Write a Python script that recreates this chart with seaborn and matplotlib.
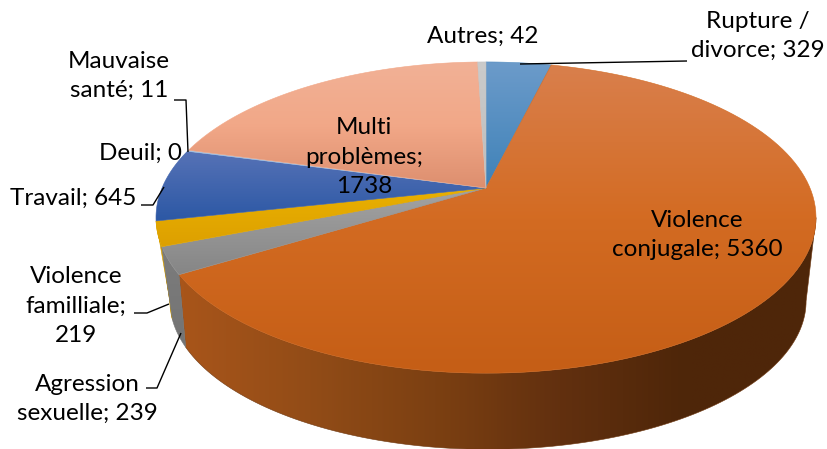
import numpy as np
import matplotlib
matplotlib.use("Agg")
import matplotlib.pyplot as plt
from matplotlib.colors import to_rgb
from matplotlib.patches import Polygon
import seaborn as sns

# slices, clockwise from the top
categories = ["Rupture /\ndivorce", "Violence\nconjugale", "Agression\nsexuelle", "Violence\nfamilliale",
              "Travail", "Deuil", "Mauvaise\nsanté", "Multi\nproblèmes", "Autres"]
values = [329, 5360, 239, 219, 645, 0, 11, 1738, 42]

top_colors = [["#6c9bca", "#3f82b8"],
              ["#d97f4c", "#d36b22", "#c55e16"],
              ["#a3a3a3", "#868686"],
              ["#e9b000", "#dda000"],
              ["#5672b6", "#2c58a5"],
              ["#4a7ebb", "#4a7ebb"],
              ["#a5c3e4", "#a5c3e4"],
              ["#f1b196", "#f2a888", "#dd8f6f"],
              ["#cbcbcb", "#bdbdbd"]]
wall_stops = ["#a8551a", "#924c17", "#7c4012", "#62300f", "#4e2609", "#4f260a"]

# label text, centre x, centre y
label_x = [758, 697, 87, 76, 73, 141, 119, 364, 483]
label_y = [36, 235, 399, 306, 198, 153, 76, 157, 36]

leaders = [[(520, 64), (687, 61)],
           [(174, 100), (186, 100), (188, 152)],
           [(141, 205), (153, 205), (164, 187)],
           [(134, 313), (147, 313), (169, 304)],
           [(146, 388), (157, 388), (181, 333)]]

# perspective of the top and bottom discs: cx, cy, a, b, k
TOP = (486, 188, 324, 150, 0.19)
BOT = (488, 264, 308, 139, 0.25)


def rim(disc, t0, t1, n=120):
    # t is degrees clockwise from the back of the pie
    cx, cy, a, b, k = disc
    t = np.radians(np.linspace(t0, t1, n))
    u, v = np.sin(t), np.cos(t)
    return np.column_stack([cx + a * u / (1 + k * v), cy - b * v / (1 + k * v)])


def paint(ax, pts, stops, z, horizontal=False):
    # gradient image clipped to the polygon, soft edge on top
    x0, y0 = pts.min(axis=0)
    x1, y1 = pts.max(axis=0)
    cols = np.array([to_rgb(c) for c in sns.blend_palette(stops, 64)])
    grad = cols[None, :, :] if horizontal else cols[:, None, :]
    im = ax.imshow(grad, extent=(x0, x1, y1, y0), aspect="auto", zorder=z, interpolation="bilinear")
    patch = Polygon(pts, closed=True, transform=ax.transData, fc="none", ec="none")
    ax.add_patch(patch)
    im.set_clip_path(patch)
    mid = sns.blend_palette(stops, 3)[1]
    ax.add_patch(Polygon(pts, closed=True, fc="none", ec=mid, lw=0.4, zorder=z))


sns.set_theme(style="white")
plt.rcParams["font.family"] = ["Lato", "DejaVu Sans"]

fig = plt.figure(figsize=(8.28, 4.49), dpi=100)
ax = fig.add_axes([0, 0, 1, 1])

edges = np.concatenate([[0], np.cumsum(values)]) / sum(values) * 360

# side walls first
t_top = np.degrees(np.arccos(-TOP[4]))
t_bot = np.degrees(np.arccos(-BOT[4]))
orange_wall = np.vstack([rim(TOP, t_top, edges[2]), rim(BOT, edges[2], t_bot)])
paint(ax, orange_wall, wall_stops, 2, horizontal=True)
grey_wall = np.vstack([rim(TOP, edges[2], edges[3], 30), rim(BOT, edges[3], edges[2], 30)])
paint(ax, grey_wall, ["#7c7c7c", "#747474"], 2)
gold_wall = np.vstack([rim(TOP, edges[3], edges[4], 30), rim(BOT, min(edges[4], 360 - t_bot), edges[3], 30)])
paint(ax, gold_wall, ["#dca400", "#c99200"], 1)

# top faces
for i, val in enumerate(values):
    if val == 0:
        continue
    pts = np.vstack([[TOP[0], TOP[1]], rim(TOP, edges[i], edges[i + 1])])
    paint(ax, pts, top_colors[i], 3)

for pts in leaders:
    xs, ys = zip(*pts)
    ax.plot(xs, ys, color="black", lw=1.0, zorder=4, solid_capstyle="butt")

for name, val, x, y in zip(categories, values, label_x, label_y):
    txt = f"{name}; {val}"
    if name == "Violence\nfamilliale":
        txt = f"{name};\n{val}"
    if name == "Multi\nproblèmes":
        txt = f"{name};\n{val}"
    ax.text(x, y, txt, ha="center", va="center", ma="center", fontsize=17.5, color="black",
            linespacing=1.5, zorder=5)

ax.set_xlim(0, 828)
ax.set_ylim(449, 0)
ax.axis("off")
fig.savefig("out.png", dpi=100, facecolor="white")
